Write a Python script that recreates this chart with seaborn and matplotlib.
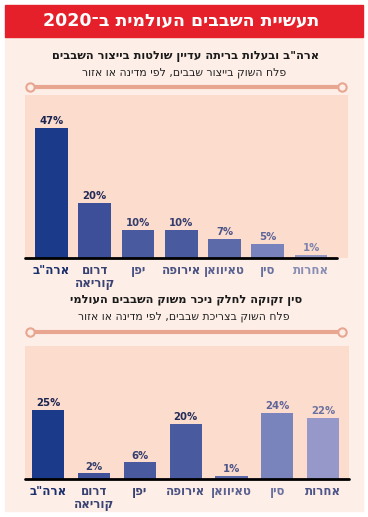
import re
import matplotlib
matplotlib.use("Agg")
import matplotlib.pyplot as plt
from matplotlib.patches import Rectangle
import seaborn as sns

# data
categories = ['ארה"ב', 'דרום\nקוריאה', 'יפן', 'אירופה', 'טאיוואן', 'סין', 'אחרות']
production = [47, 20, 10, 10, 7, 5, 1]
consumption = [25, 2, 6, 20, 1, 24, 22]

title = 'תעשיית השבבים העולמית ב־2020'
head1 = 'ארה"ב ובעלות בריתה עדיין שולטות בייצור השבבים'
sub1 = 'פלח השוק בייצור שבבים, לפי מדינה או אזור'
head2 = 'סין זקוקה לחלק ניכר משוק השבבים העולמי'
sub2 = 'פלח השוק בצריכת שבבים, לפי מדינה או אזור'

bar_colors1 = ['#1b3a8a', '#3d4f98', '#4a5a9e', '#4a5a9e', '#5c6aaa', '#7882bc', '#9598c4']
bar_colors2 = ['#1b3a8a', '#3f5198', '#4a5a9e', '#4a5a9e', '#5c6aaa', '#7a84bc', '#9598c8']
val_colors1 = ['#1a2450', '#232c58', '#343d6c', '#343d6c', '#4d5488', '#5d6498', '#7c82ac']
val_colors2 = ['#1a2450', '#343d6c', '#343d6c', '#232c58', '#4d5488', '#5d6498', '#6c72a0']
tick_colors1 = ['#1b2f6b', '#3a4272', '#4a5282', '#4a5282', '#5a6090', '#6a70a0', '#8a8eb4']
tick_colors2 = ['#1b2f6b', '#3a4272', '#3a4272', '#4a5282', '#5a6090', '#6a70a0', '#4d5488']

W, H = 368, 517


def rtl(s):
    # matplotlib lays glyphs out left to right, so flip hebrew lines by hand
    lines = []
    for line in s.split('\n'):
        r = line[::-1]
        r = re.sub(r'[0-9%]+', lambda m: m.group(0)[::-1], r)
        lines.append(r)
    return '\n'.join(lines)


def fx(px):
    return px / W


def fy(py):
    return 1 - py / H


sns.set_style("white")
plt.rcParams['font.family'] = ['DejaVu Sans']

fig = plt.figure(figsize=(W / 100, H / 100), dpi=100)
fig.patch.set_facecolor('white')

# background panels
fig.patches.append(Rectangle((fx(5), fy(511)), fx(358), (511 - 37) / H,
                             transform=fig.transFigure, color='#fdefe8', zorder=-2))
fig.patches.append(Rectangle((fx(5), fy(37)), fx(358), 32 / H,
                             transform=fig.transFigure, color='#e5202b', zorder=-2))

fig.text(fx(181), fy(21), rtl(title), color='white', fontsize=12.5,
         fontweight='heavy', ha='center', va='center')


def header(head, sub, y_head, y_line):
    fig.text(fx(186), fy(y_head), rtl(head), color='#1a1a1a', fontsize=8.2,
             fontweight='bold', ha='center', va='center')
    fig.text(fx(184), fy(y_head + 17), rtl(sub), color='#222222', fontsize=7.8,
             ha='center', va='center')
    fig.lines.append(plt.Line2D([fx(30), fx(342)], [fy(y_line), fy(y_line)],
                                transform=fig.transFigure, color='#e8a690', lw=3,
                                marker='o', markersize=6, markerfacecolor='#fdefe8',
                                markeredgecolor='#e8a690', markeredgewidth=1.5))


header(head1, sub1, 56, 87)
header(head2, sub2, 300, 332)


def chart(rect, values, bar_colors, val_colors, tick_colors, xlim, ylim, width, base_x):
    ax = fig.add_axes(rect, zorder=1)
    ax.set_facecolor('#fcdccd')
    labels = [rtl(c) for c in categories]
    sns.barplot(x=labels, y=values, hue=labels, palette=bar_colors, legend=False,
                width=width, saturation=1, linewidth=0, ax=ax)
    ax.set_xlim(*xlim)
    ax.set_ylim(*ylim)
    for i, v in enumerate(values):
        ax.text(i, v + 0.7, f'{v}%', ha='center', va='bottom', fontsize=7.3,
                fontweight='bold', color=val_colors[i])
    ax.axhline(0, xmin=0, xmax=base_x, color='black', lw=2, clip_on=False)
    ax.set_yticks([])
    ax.set_xlabel('')
    ax.set_ylabel('')
    ax.tick_params(axis='x', length=0, pad=4)
    for t, c in zip(ax.get_xticklabels(), tick_colors):
        t.set_color(c)
        t.set_fontsize(8.5)
        t.set_fontweight('bold')
        t.set_linespacing(1.0)
        t.set_verticalalignment('top')
    for s in ax.spines.values():
        s.set_visible(False)
    return ax


chart([fx(25), fy(258), fx(323), (258 - 95) / H], production,
      bar_colors1, val_colors1, tick_colors1, (-0.613, 6.855), (0, 58.8), 0.76,
      (337 - 25) / 323)
chart([fx(25), fy(479), fx(324), (479 - 346) / H], consumption,
      bar_colors2, val_colors2, tick_colors2, (-0.50, 6.56), (0, 48.2), 0.70, 1.0)

fig.savefig('out.png', dpi=100, facecolor='white')
